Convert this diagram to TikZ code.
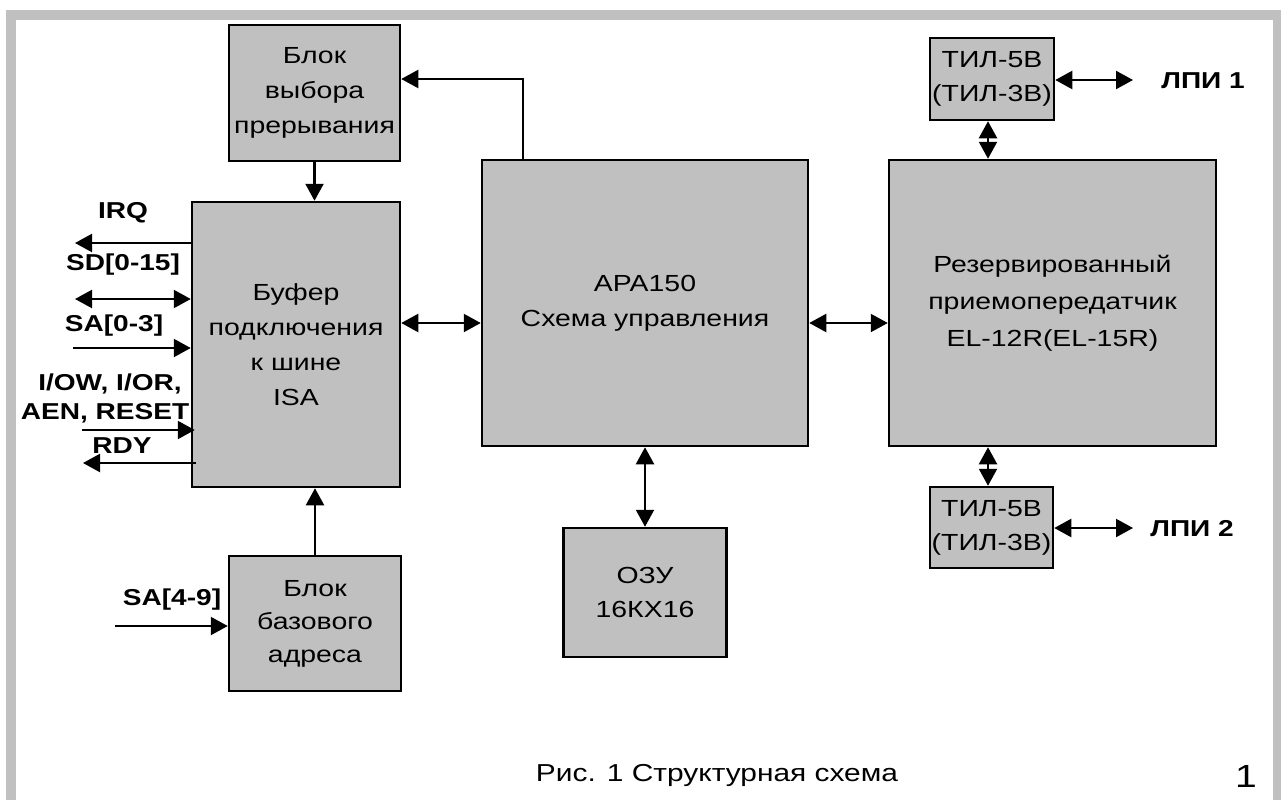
\documentclass[tikz,border=0pt]{standalone}
\usepackage{fontspec}
\setmainfont{Liberation Sans}[FakeStretch=1.22]
\usetikzlibrary{arrows.meta,calc}
\definecolor{boxgrey}{HTML}{C0C0C0}
\begin{document}
\begin{tikzpicture}[x=1pt,y=-1pt,
  blk/.style={draw=black, fill=boxgrey, line width=2.5pt, inner sep=0pt, align=center,
              font=\fontsize{23.3}{35}\selectfont},
  ar/.style={line width=2.2pt, -{Triangle[length=17pt,width=18pt]}},
  dar/.style={line width=2.2pt, {Triangle[length=17pt,width=18pt]}-{Triangle[length=17pt,width=18pt]}},
  lbl/.style={font=\fontsize{23}{29}\selectfont\bfseries, inner sep=0pt, text height=16.5pt, text depth=0pt},
  captxt/.style={font=\fontsize{24.5}{29}\selectfont, inner sep=0pt, text height=17pt, text depth=0pt}]
\useasboundingbox (0,0) rectangle (1281,800);
% frame
\fill[boxgrey] (6,10) rectangle (1281,800);
\fill[white] (16,20) rectangle (1273,800);

% blocks
\node[blk, minimum width=171pt, minimum height=136pt] (vyb) at (314.5,93) {Блок\\выбора\\прерывания};
\node[blk, minimum width=208pt, minimum height=285pt] (buf) at (296,344.5) {Буфер\\подключения\\к шине\\ISA};
\node[blk, minimum width=326pt, minimum height=286pt] (apa) at (645,303) {APA150\\Схема управления};
\node[blk, minimum width=327pt, minimum height=286pt, font=\fontsize{23.3}{37}\selectfont] (rez) at (1052.5,303) {Резервированный\\приемопередатчик\\EL-12R(EL-15R)};
\node[blk, minimum width=124pt, minimum height=82pt, font=\fontsize{23.3}{34}\selectfont] (til1) at (992,79) {ТИЛ-5В\\(ТИЛ-3В)};
\node[blk, minimum width=123pt, minimum height=81pt, font=\fontsize{23.3}{34}\selectfont] (til2) at (991.5,527.5) {ТИЛ-5В\\(ТИЛ-3В)};
\node[blk, minimum width=163pt, minimum height=129pt, font=\fontsize{23.3}{34}\selectfont] (ozu) at (645,592.5) {ОЗУ\\16КХ16};
\node[blk, minimum width=172pt, minimum height=135pt, font=\fontsize{23.3}{33}\selectfont] (baz) at (315,623.5) {Блок\\базового\\адреса};

% free ends
\coordinate (irqE) at (75,243);
\coordinate (sdE) at (75,299);
\coordinate (saE) at (73,348);
\coordinate (iowS) at (82,430);
\coordinate (rdyE) at (83,463);
\coordinate (sa49S) at (115,626);
\coordinate (lpi1E) at (1133,80);
\coordinate (lpi2E) at (1133,528);
\coordinate (bend) at (523,79);

% connectors
\draw[ar] (vyb.south) -- (vyb.south |- buf.north);
\draw[ar] (baz.north) -- (baz.north |- buf.south);
\draw[ar] (apa.north -| bend) -- (bend) -- (vyb.east |- bend);
\draw[dar] (buf.east |- 0,323) -- (apa.west |- 0,323);
\draw[dar] (apa.east |- 0,323) -- (rez.west |- 0,323);
\draw[dar] (apa.south) -- (apa.south |- ozu.north);
\draw[dar] (til1.south -| 988,0) -- (rez.north -| 988,0);
\draw[dar] (rez.south -| 988,0) -- (til2.north -| 988,0);
\draw[dar] (til1.east |- lpi1E) -- (lpi1E);
\draw[dar] (til2.east |- lpi2E) -- (lpi2E);
\draw[ar] (buf.west |- irqE) -- (irqE);
\draw[dar] (buf.west |- sdE) -- (sdE);
\draw[ar] (saE) -- (buf.west |- saE);
\draw[ar] (iowS) -- ([xshift=4pt]buf.west |- iowS);
\draw[ar] ([xshift=5pt]buf.west |- rdyE) -- (rdyE);
\draw[ar] (sa49S) -- (baz.west |- sa49S);

% labels
\node[lbl] (lirq) at (123,210) {IRQ};
\node[lbl] (lsd) at (123,262) {SD[0-15]};
\node[lbl] (lsa) at (114,323) {SA[0-3]};
\node[lbl] (liow) at (110,382) {I/OW, I/OR,};
\node[lbl] (laen) at (105,411) {AEN, RESET};
\node[lbl] (lrdy) at (122,445) {RDY};
\node[lbl] (lsa49) at (172,597) {SA[4-9]};
\node[lbl] (llpi1) at (1203,80) {ЛПИ 1};
\node[lbl] (llpi2) at (1192,528) {ЛПИ 2};

% caption
\node[captxt] (caption) at (717,773) {Рис. 1 Структурная схема};
\node[font=\fontsize{32}{36}\selectfont, inner sep=0pt, text height=23pt, text depth=0pt] (pnum) at (1246,776) {1};
\end{tikzpicture}
\end{document}
